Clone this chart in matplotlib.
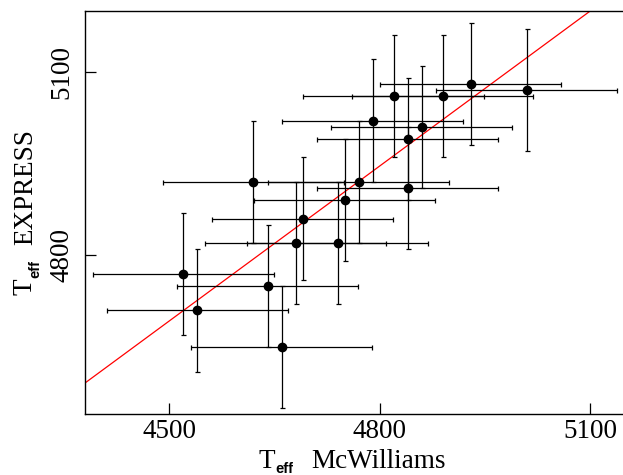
import matplotlib
matplotlib.use("Agg")
import matplotlib.pyplot as plt

# Data
teff_mcw = [4930, 5010, 4890, 4820, 4790, 4860, 4840, 4840, 4770,
            4620, 4750, 4690, 4680, 4740, 4520, 4640, 4540, 4660]
teff_express = [5080, 5070, 5060, 5060, 5020, 5010, 4990, 4910, 4920,
                4920, 4890, 4860, 4820, 4820, 4770, 4750, 4710, 4650]
xerr_val = 129
yerr_val = 100
fit_slope = 0.843
fit_intercept = 899.5
xticks = [4500, 4800, 5100]
yticks = [4800, 5100]
x_label_sym, x_label_sub, x_label_rest = 'T', 'eff', 'McWilliams'
y_label_sym, y_label_sub, y_label_rest = 'T', 'eff', 'EXPRESS'

W, H = 623, 475
plt.rcParams['font.family'] = ['Liberation Serif', 'DejaVu Serif']

fig = plt.figure(figsize=(W / 100, H / 100), dpi=100)
ax = fig.add_axes([84.5 / W, 1 - 414 / H, (W - 84.5) / W, (414 - 11) / H])

ax.errorbar(teff_mcw, teff_express,
            xerr=[xerr_val] * len(teff_mcw), yerr=[yerr_val] * len(teff_mcw),
            fmt='o', color='black', ms=6, ecolor='black', elinewidth=0.9,
            capsize=1.8, capthick=0.9, zorder=3)

ax.axline((0, fit_intercept), slope=fit_slope, color='red', lw=0.9, zorder=2)

ax.set_xlim(4379, 5147)
ax.set_ylim(4541, 5199)
ax.set_xticks(xticks)
ax.set_yticks(yticks)
ax.tick_params(direction='in', length=8, width=0.9, labelsize=19.5)
ax.tick_params(axis='x', pad=3.5)
ax.tick_params(axis='y', pad=7.5, labelrotation=90)
for lab in ax.get_yticklabels():
    lab.set_va('center')

for s in ax.spines.values():
    s.set_linewidth(1.0)
ax.spines['right'].set_visible(False)

def px(x, y):
    return x / W, 1 - y / H

lab_fs = 19.5
sub_kw = dict(family='Liberation Sans', weight='bold', fontsize=10.5)

# x-axis label: T_eff  McWilliams
fig.text(*px(267, 468), x_label_sym, fontsize=lab_fs, ha='center', va='baseline')
fig.text(*px(275, 473), x_label_sub, ha='left', va='baseline', **sub_kw)
fig.text(*px(378.5, 468), x_label_rest, fontsize=lab_fs, ha='center', va='baseline')

# y-axis label (rotated): T_eff  EXPRESS
fig.text(*px(32, 287), y_label_sym, fontsize=lab_fs, rotation=90,
         ha='center', va='baseline', rotation_mode='anchor')
fig.text(*px(39, 278.5), y_label_sub, rotation=90,
         ha='left', va='baseline', rotation_mode='anchor', **sub_kw)
fig.text(*px(32, 187), y_label_rest, fontsize=lab_fs, rotation=90,
         ha='center', va='baseline', rotation_mode='anchor')

fig.savefig('out.png', dpi=100)
